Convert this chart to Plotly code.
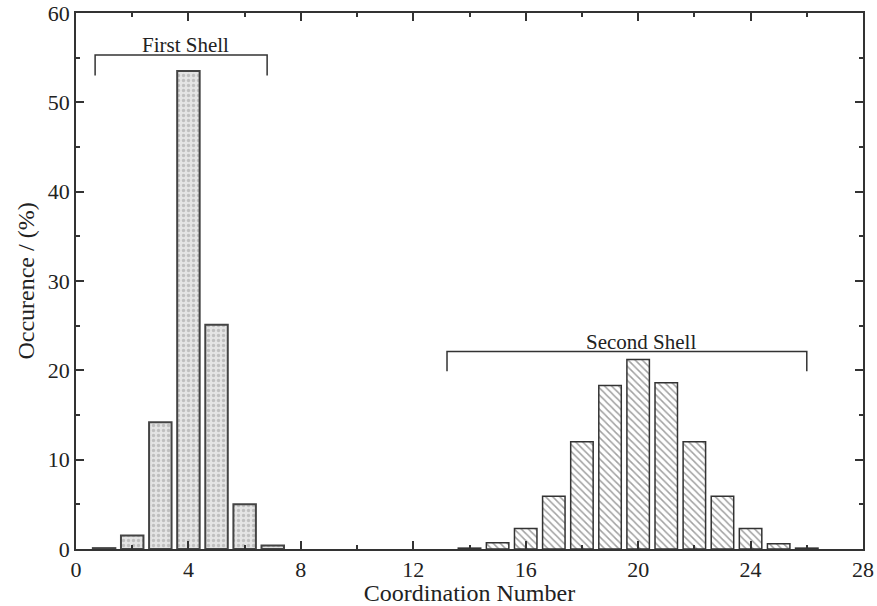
import plotly.graph_objects as go

first_x = [1, 2, 3, 4, 5, 6, 7]
first_y = [0.1, 1.5, 14.2, 53.5, 25.1, 5.0, 0.4]
second_x = [14, 15, 16, 17, 18, 19, 20, 21, 22, 23, 24, 25, 26]
second_y = [0.1, 0.7, 2.3, 5.9, 12.0, 18.3, 21.2, 18.6, 12.0, 5.9, 2.3, 0.6, 0.1]

x_ticks = [0, 4, 8, 12, 16, 20, 24, 28]
y_ticks = [0, 10, 20, 30, 40, 50, 60]

font_family = "'Liberation Serif', 'Times New Roman', 'DejaVu Serif', serif"

fig = go.Figure()
fig.add_trace(go.Bar(
    x=first_x, y=first_y, width=0.8,
    marker=dict(color="#e6e6e6", line=dict(color="#444444", width=2),
                pattern=dict(shape=".", fgcolor="#999999", bgcolor="#e4e4e4", size=5, solidity=0.35)),
    showlegend=False,
))
fig.add_trace(go.Bar(
    x=second_x, y=second_y, width=0.8,
    marker=dict(color="white", line=dict(color="#333333", width=1.5),
                pattern=dict(shape="\\", fgcolor="#444444", bgcolor="white", size=5, solidity=0.3)),
    showlegend=False,
))

# brackets
line_style = dict(color="#333333", width=1.5)
fig.add_shape(type="path", path="M 0.68 53.0 L 0.68 55.3 L 6.8 55.3 L 6.8 53.0",
              xref="x", yref="y", line=line_style)
fig.add_shape(type="path", path="M 13.2 19.9 L 13.2 22.1 L 26.0 22.1 L 26.0 19.9",
              xref="x", yref="y", line=line_style)
fig.add_annotation(x=3.9, y=55.3, text="First Shell", showarrow=False, yanchor="bottom",
                   font=dict(family=font_family, size=21, color="#222222"), yshift=-4)
fig.add_annotation(x=20.1, y=22.1, text="Second Shell", showarrow=False, yanchor="bottom",
                   font=dict(family=font_family, size=21, color="#222222"), yshift=-4)

axis_common = dict(
    showline=True, linecolor="#333333", linewidth=1.5, mirror="allticks",
    ticks="inside", ticklen=8, tickwidth=1.5, tickcolor="#333333",
    showgrid=False, zeroline=False,
    tickfont=dict(family=font_family, size=22, color="#222222"),
)
fig.update_xaxes(range=[0, 28], tickvals=x_ticks, ticktext=[str(v) for v in x_ticks],
                 minor=dict(ticks="inside", ticklen=4, tickwidth=1.5, tickcolor="#333333", dtick=2, tick0=0),
                 title=dict(text="Coordination Number", font=dict(family=font_family, size=24, color="#222222"), standoff=4),
                 **axis_common)
fig.update_yaxes(range=[0, 60], tickvals=y_ticks, ticktext=[str(v) for v in y_ticks],
                 minor=dict(ticks="inside", ticklen=4, tickwidth=1.5, tickcolor="#333333", dtick=5, tick0=0),
                 title=dict(text="Occurence / (%)", font=dict(family=font_family, size=24, color="#222222"), standoff=6),
                 **axis_common)

fig.update_layout(
    width=877, height=606,
    margin=dict(l=76, r=14, t=13, b=57, autoexpand=False),
    plot_bgcolor="white", paper_bgcolor="white",
    font=dict(family=font_family),
    bargap=0.2,
)
fig.write_html("out.html")
